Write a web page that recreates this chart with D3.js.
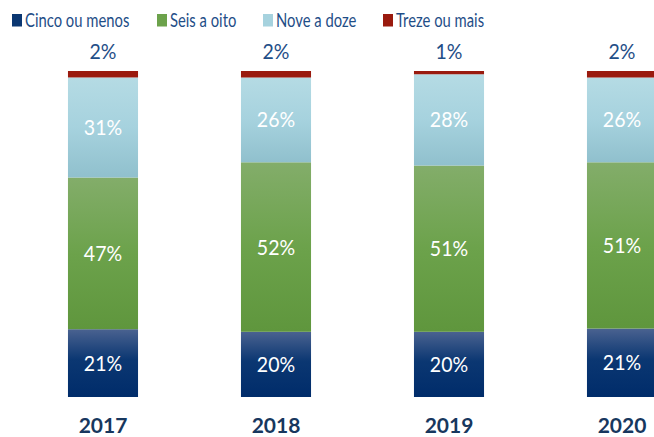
<!DOCTYPE html>
<html><head><meta charset="utf-8">
<script src="https://cdn.jsdelivr.net/npm/d3@7"></script>
<style>body{margin:0;background:#fff}svg{display:block;font-family:Lato,"Open Sans",sans-serif}</style>
</head><body><svg id="c" width="654" height="437"></svg>
<script>
const years = ["2017","2018","2019","2020"];
const seriesNames = ["Cinco ou menos","Seis a oito","Nove a doze","Treze ou mais"];
const cincoOuMenos = [21,20,20,21];
const seisAOito = [47,52,51,51];
const noveADoze = [31,26,28,26];
const trezeOuMais = [2,2,1,2];

const keys = ["c","s","n","t"];
const rows = years.map((y,i)=>({year:y,c:cincoOuMenos[i],s:seisAOito[i],n:noveADoze[i],t:trezeOuMais[i]}));
const svg = d3.select("#c");
const defs = svg.append("defs");
const grads = [
  ["#4a6290","#0b3772","#002c6a"],
  ["#83ad6a","#6ca24b","#5f963d"],
  ["#b5dbe4","#a6d2de","#90c0cd"],
  ["#9a1a0e","#9a1a0e","#9a1a0e"]
];
grads.forEach((g,i)=>{
  const lg = defs.append("linearGradient").attr("id","g"+i).attr("x1",0).attr("y1",0).attr("x2",0).attr("y2",1);
  lg.append("stop").attr("offset","0%").attr("stop-color",g[0]);
  lg.append("stop").attr("offset",i===0?"45%":"50%").attr("stop-color",g[1]);
  lg.append("stop").attr("offset","100%").attr("stop-color",g[2]);
});
const legendColors = ["#0b3772","#6ca24b","#a6d2de","#9a1a0e"];
const textBlue = "#1f4e87";

function condense(sel, f){
  sel.each(function(){ const w=this.getComputedTextLength(); d3.select(this).attr("textLength",w*f).attr("lengthAdjust","spacingAndGlyphs"); });
}

const x = d3.scaleBand().domain(years).range([16.5,708.5]).paddingInner(0.595).paddingOuter(0.2975);
const y = d3.scaleLinear().domain([0,1]).range([397,71]);
const stack = d3.stack().keys(keys).offset(d3.stackOffsetExpand);
const layers = stack(rows);

layers.forEach((layer,li)=>{
  const g = svg.append("g");
  g.selectAll("rect").data(layer).join("rect")
    .attr("x",d=>x(d.data.year)).attr("width",x.bandwidth())
    .attr("y",d=>y(d[1])).attr("height",d=>y(d[0])-y(d[1]))
    .attr("fill","url(#g"+li+")");
  let t;
  if(li<3){
    t = g.selectAll("text").data(layer).join("text")
      .attr("x",d=>x(d.data.year)+x.bandwidth()/2)
      .attr("y",d=>(y(d[0])+y(d[1]))/2)
      .attr("dy","0.36em").attr("text-anchor","middle")
      .attr("fill","#fff").attr("font-size",21)
      .text(d=>d.data[keys[li]]+"%");
  } else {
    t = g.selectAll("text").data(layer).join("text")
      .attr("x",d=>x(d.data.year)+x.bandwidth()/2)
      .attr("y",d=>y(d[1])-12)
      .attr("text-anchor","middle")
      .attr("fill",textBlue).attr("font-size",21)
      .text(d=>d.data[keys[li]]+"%");
  }
  condense(t,0.93);
});

// year labels
svg.append("g").selectAll("text").data(years).join("text")
  .attr("x",d=>x(d)+x.bandwidth()/2).attr("y",433)
  .attr("text-anchor","middle").attr("font-weight","bold")
  .attr("font-size",21).attr("fill","#17375e").text(d=>d);

// legend
const legX = [12,157,263,383];
const lg = svg.append("g");
seriesNames.forEach((n,i)=>{
  lg.append("rect").attr("x",legX[i]).attr("y",14).attr("width",10).attr("height",12.5).attr("fill",legendColors[i]);
  const t = lg.append("text").attr("x",legX[i]+13).attr("y",26.5).attr("font-size",18.5).attr("fill",textBlue).text(n);
  condense(t,0.8);
});
</script></body></html>
